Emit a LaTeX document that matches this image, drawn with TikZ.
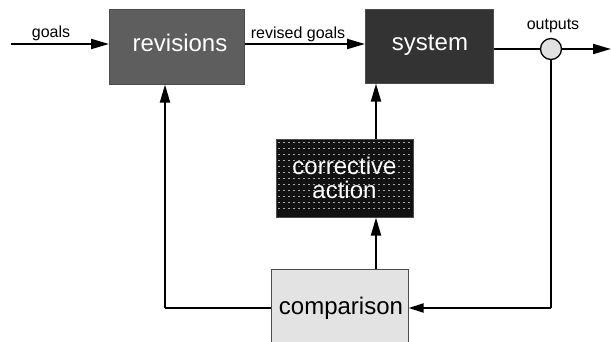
\documentclass[tikz,border=0pt]{standalone}
\usepackage{fontspec}
\setmainfont{Liberation Sans}
\usetikzlibrary{arrows.meta}
\begin{document}
\begin{tikzpicture}[x=1pt,y=-1pt,
  blk/.style={draw=black!70,line width=0.6pt,anchor=north west,inner sep=0pt},
  flow/.style={line width=2pt,-{Triangle[length=18pt,width=10pt]}},
  wire/.style={line width=2pt},
  boxtext/.style={font=\fontsize{24}{26}\selectfont},
  lbl/.style={font=\fontsize{16}{18}\selectfont,inner sep=0pt}]
\clip (0,0) rectangle (611,342);
\useasboundingbox (0,0) rectangle (611,342);
% blocks
\node[blk,minimum width=135pt,minimum height=75pt,fill=black!63] (rev) at (109,9) {};
\node[boxtext,text=white] (revtext) at (180,43) {revisions};
\node[blk,minimum width=128pt,minimum height=74pt,fill=black!80] (sys) at (365,9) {};
\node[boxtext,text=white] (systext) at (430,45) {system};
\node[blk,minimum width=137pt,minimum height=78pt,fill=black!93] (cor) at (276,139) {};
% dotted texture of the corrective block
\foreach \yy in {143,149,...,214}
  \foreach \xx in {279,284,...,410}
    \fill[black!35] (\xx-0.7,\yy-0.5) rectangle (\xx+0.7,\yy+0.5);
\node[boxtext,text=white,align=center,inner sep=0pt] (cortext) at (344.5,178) {corrective\\[-2pt]action};
\node[blk,minimum width=137pt,minimum height=90pt,fill=black!11] (cmp) at (271,269) {};
\node[boxtext] (cmptext) at (341,308) {comparison};
\node[circle,draw=black,line width=1.3pt,fill=black!12,minimum size=21pt,inner sep=0pt] (sum) at (551,49) {};
% free ends
\coordinate (in) at (11,44);
\coordinate (out) at (611,49);
\coordinate (fbr) at (551,308);
\coordinate (fbl) at (165,308);
% labels
\node[lbl] (goalslbl) at (51,33) {goals};
\node[lbl] (revlbl) at (298,34) {revised goals};
\node[lbl] (outlbl) at (553,26) {outputs};
% connectors
\draw[flow] (in) -- (rev.west |- in);
\draw[flow] (rev.east |- in) -- (sys.west |- in);
\draw[wire] (sys.east |- sum) -- (sum.west);
\draw[flow] (sum.east) -- (out);
\draw[wire] (sum.south) -- (fbr);
\draw[flow,-{Triangle[length=15pt,width=9pt]}] (fbr) -- (cmp.east |- fbr);
\draw[wire] (cmp.west |- fbl) -- (fbl);
\draw[flow] (fbl) -- (fbl |- rev.south);
\draw[flow] (cmp.north -| 376,0) -- (cor.south -| 376,0);
\draw[flow] (cor.north -| 376,0) -- (sys.south -| 376,0);
\end{tikzpicture}
\end{document}
